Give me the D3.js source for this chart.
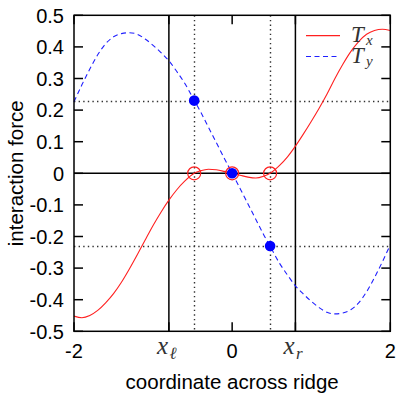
<!DOCTYPE html>
<html>
<head>
<meta charset="utf-8">
<script src="https://cdn.jsdelivr.net/npm/d3@7"></script>
<style>
  body { margin: 0; background: #fff; }
  text { font-family: "Liberation Sans", Arial, sans-serif; }
  .math { font-family: "Liberation Serif", "DejaVu Serif", serif; font-style: italic; fill: #333; }
</style>
</head>
<body>
<div id="chart"></div>
<script>
// sample positions across the ridge
const xs  = [-2.0, -1.9, -1.8, -1.7, -1.6, -1.5, -1.4, -1.3, -1.2, -1.1, -1.0, -0.9, -0.8, -0.7, -0.6, -0.48, -0.4, -0.3, -0.2, -0.1, 0.0,
              0.1, 0.2, 0.3, 0.4, 0.48, 0.6, 0.7, 0.8, 0.9, 1.0, 1.1, 1.2, 1.3, 1.4, 1.5, 1.6, 1.7, 1.8, 1.9, 2.0];
const tx  = [-0.452, -0.457, -0.450, -0.434, -0.410, -0.381, -0.345, -0.303, -0.258, -0.211, -0.165, -0.123, -0.085, -0.052, -0.025, 0.0, 0.008, 0.013, 0.011, 0.006, 0.0,
             -0.006, -0.012, -0.015, -0.009, 0.0, 0.025, 0.052, 0.086, 0.124, 0.164, 0.206, 0.251, 0.300, 0.345, 0.385, 0.417, 0.440, 0.452, 0.456, 0.452];
const ty  = [0.226, 0.280, 0.330, 0.375, 0.410, 0.432, 0.442, 0.445, 0.440, 0.425, 0.405, 0.382, 0.356, 0.322, 0.285, 0.231, 0.195, 0.146, 0.097, 0.048, 0.0,
             -0.048, -0.097, -0.146, -0.195, -0.231, -0.285, -0.322, -0.356, -0.382, -0.405, -0.425, -0.440, -0.445, -0.442, -0.432, -0.410, -0.375, -0.330, -0.280, -0.226];

const yTicks = [-0.5, -0.4, -0.3, -0.2, -0.1, 0, 0.1, 0.2, 0.3, 0.4, 0.5];
const xTicks = [-2, -0.8, 0, 0.8, 2];
const xTickLabels = ['-2', 'x_ℓ', '0', 'x_r', '2'];

const ridgeEdges = [-0.8, 0.8];
const markX = [-0.48, 0.48];
const markY = [0.23, -0.23];
const openPts = [[-0.48, 0], [0, 0], [0.48, 0]];
const filledPts = [[-0.48, 0.23], [0, 0], [0.48, -0.23]];

const width = 400, height = 393;
const plot = { left: 74, right: 390.3, top: 15.3, bottom: 331.3 };

const x = d3.scaleLinear().domain([-2, 2]).range([plot.left, plot.right]);
const y = d3.scaleLinear().domain([-0.5, 0.5]).range([plot.bottom, plot.top]);

const svg = d3.select('#chart').append('svg')
    .attr('width', width)
    .attr('height', height);

// dotted guides
const dots = svg.append('g')
    .attr('stroke', '#333')
    .attr('stroke-width', 1.4)
    .attr('stroke-dasharray', '1.4,3.2')
    .attr('fill', 'none');
dots.selectAll('line.v').data(markX).enter().append('line')
    .attr('x1', d => Math.round(x(d)) + 0.5).attr('x2', d => Math.round(x(d)) + 0.5)
    .attr('y1', plot.top).attr('y2', plot.bottom);
dots.selectAll('line.h').data(markY).enter().append('line')
    .attr('x1', plot.left).attr('x2', plot.right)
    .attr('y1', d => Math.round(y(d)) + 0.5).attr('y2', d => Math.round(y(d)) + 0.5);

// solid lines: zero axis and ridge edges
svg.append('line')
    .attr('x1', plot.left).attr('x2', plot.right)
    .attr('y1', y(0)).attr('y2', y(0))
    .attr('stroke', '#000').attr('stroke-width', 1.5);
svg.selectAll('line.edge').data(ridgeEdges).enter().append('line')
    .attr('x1', d => x(d)).attr('x2', d => x(d))
    .attr('y1', plot.top).attr('y2', plot.bottom)
    .attr('stroke', '#000').attr('stroke-width', 1.5);

// ticks (mirrored, pointing inward)
const tk = 9;
const tg = svg.append('g').attr('stroke', '#000').attr('stroke-width', 1.5);
yTicks.forEach(v => {
    tg.append('line').attr('x1', plot.left).attr('x2', plot.left + tk).attr('y1', y(v)).attr('y2', y(v));
    tg.append('line').attr('x1', plot.right).attr('x2', plot.right - tk).attr('y1', y(v)).attr('y2', y(v));
});
xTicks.forEach(v => {
    tg.append('line').attr('x1', x(v)).attr('x2', x(v)).attr('y1', plot.bottom).attr('y2', plot.bottom - tk);
    tg.append('line').attr('x1', x(v)).attr('x2', x(v)).attr('y1', plot.top).attr('y2', plot.top + tk);
});

// curves
const line = d3.line()
    .x(d => x(d[0]))
    .y(d => y(d[1]))
    .curve(d3.curveMonotoneX);

svg.append('path')
    .datum(xs.map((v, i) => [v, tx[i]]))
    .attr('d', line)
    .attr('fill', 'none')
    .attr('stroke', '#ff2020')
    .attr('stroke-width', 1.1);

svg.append('path')
    .datum(xs.map((v, i) => [v, ty[i]]))
    .attr('d', line)
    .attr('fill', 'none')
    .attr('stroke', '#2020ff')
    .attr('stroke-width', 1.1)
    .attr('stroke-dasharray', '5,3.5');

// markers
svg.selectAll('circle.filled').data(filledPts).enter().append('circle')
    .attr('cx', d => x(d[0])).attr('cy', d => y(d[1]))
    .attr('r', 5.3)
    .attr('fill', '#0000ff');
svg.selectAll('circle.open').data(openPts).enter().append('circle')
    .attr('cx', d => x(d[0])).attr('cy', d => y(d[1]))
    .attr('r', 6.5)
    .attr('fill', 'none')
    .attr('stroke', '#ff2020')
    .attr('stroke-width', 1.2);

// frame
svg.append('rect')
    .attr('x', plot.left).attr('y', plot.top)
    .attr('width', plot.right - plot.left)
    .attr('height', plot.bottom - plot.top)
    .attr('fill', 'none')
    .attr('stroke', '#000')
    .attr('stroke-width', 1.5);

// y tick labels
svg.append('g').selectAll('text').data(yTicks).enter().append('text')
    .attr('x', 64)
    .attr('y', d => y(d))
    .attr('dy', '0.36em')
    .attr('text-anchor', 'end')
    .attr('font-size', 20)
    .text(d => d3.format('.1f')(d).replace('0.0', '0').replace('−', '-'));

// x tick labels
xTicks.forEach((v, i) => {
    const lab = xTickLabels[i];
    if (lab.indexOf('_') < 0) {
        svg.append('text')
            .attr('x', x(v)).attr('y', 358)
            .attr('text-anchor', 'middle')
            .attr('font-size', 20)
            .text(lab);
    } else {
        const parts = lab.split('_');
        svg.append('text')
            .attr('class', 'math')
            .attr('x', x(v) - 12).attr('y', 354)
            .attr('font-size', 25)
            .text(parts[0]);
        svg.append('text')
            .attr('class', 'math')
            .attr('x', x(v) + 0.5).attr('y', 359)
            .attr('font-size', 17)
            .text(parts[1]);
    }
});

// axis titles
svg.append('text')
    .attr('x', x(0)).attr('y', 389)
    .attr('text-anchor', 'middle')
    .attr('font-size', 20.5)
    .text('coordinate across ridge');
svg.append('text')
    .attr('transform', 'translate(23,' + y(0) + ') rotate(-90)')
    .attr('text-anchor', 'middle')
    .attr('font-size', 20.5)
    .text('interaction force');

// legend
const legend = [
    { name: 'x', color: '#ff2020', dash: null, y: 35.7 },
    { name: 'y', color: '#2020ff', dash: '5,3.5', y: 56.5 }
];
legend.forEach(l => {
    svg.append('line')
        .attr('x1', 306).attr('x2', 340)
        .attr('y1', l.y).attr('y2', l.y)
        .attr('stroke', l.color)
        .attr('stroke-width', 1.2)
        .attr('stroke-dasharray', l.dash);
    svg.append('text')
        .attr('class', 'math')
        .attr('x', 351).attr('y', l.y + 6)
        .attr('font-size', 23)
        .text('T');
    svg.append('text')
        .attr('class', 'math')
        .attr('x', 366).attr('y', l.y + 9)
        .attr('font-size', 15)
        .text(l.name);
});
</script>
</body>
</html>
